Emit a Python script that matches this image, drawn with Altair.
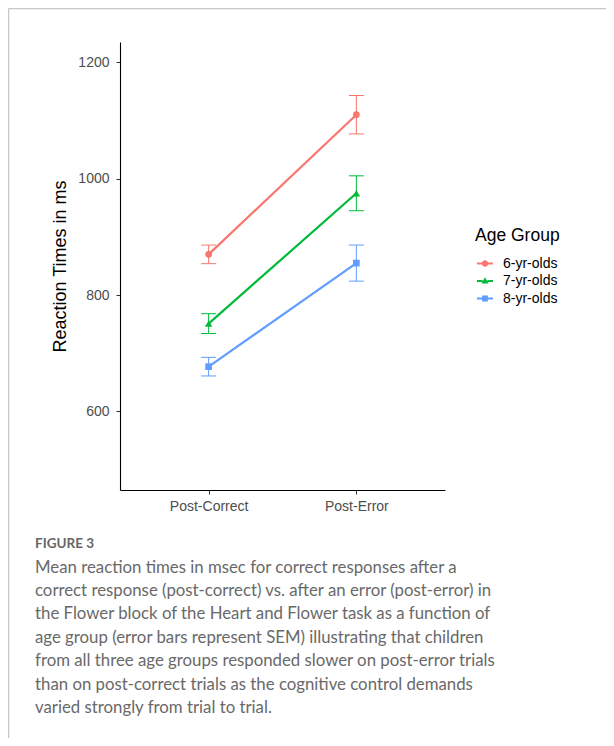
import altair as alt
import pandas as pd

# ---- data ----
conditions = ["Post-Correct", "Post-Error"]
groups = ["6-yr-olds", "7-yr-olds", "8-yr-olds"]
mean_6 = [870, 1110]
mean_7 = [751, 975]
mean_8 = [677, 855]
sem_6 = [16, 33]
sem_7 = [17, 30]
sem_8 = [16, 31]
y_ticks = [600, 800, 1000, 1200]
colors = ["#F8766D", "#00BA38", "#619CFF"]
plot_shapes = ["circle", "triangle-up", "square"]

caption_head = "FIGURE 3"
caption_lines = [
    "Mean reaction times in msec for correct responses after a",
    "correct response (post-correct) vs. after an error (post-error) in",
    "the Flower block of the Heart and Flower task as a function of",
    "age group (error bars represent SEM) illustrating that children",
    "from all three age groups responded slower on post-error trials",
    "than on post-correct trials as the cognitive control demands",
    "varied strongly from trial to trial.",
]

rows = []
for g, m, s in zip(groups, [mean_6, mean_7, mean_8], [sem_6, sem_7, sem_8]):
    for c, mv, sv in zip(conditions, m, s):
        rows.append({"group": g, "condition": c, "rt": mv, "lo": mv - sv, "hi": mv + sv})
df = pd.DataFrame(rows)

# legend glyphs: short line with the group's marker in the middle
line_l = "M-1,-0.13H-0.3V0.13H-1Z"
line_r = "M0.3,-0.13H1V0.13H0.3Z"
legend_paths = [
    line_l + line_r + "M0.4,0A0.4,0.4 0 1,1 -0.4,0A0.4,0.4 0 1,1 0.4,0Z",
    line_l + line_r + "M0,-0.46L0.44,0.32L-0.44,0.32Z",
    line_l + line_r + "M-0.36,-0.36H0.36V0.36H-0.36Z",
]

FONT = "Liberation Sans"

x_enc = alt.X(
    "condition:N",
    sort=conditions,
    scale=alt.Scale(type="point", padding=0.6),
    axis=alt.Axis(
        title=None, labelAngle=0, labelFont=FONT, labelFontSize=14,
        labelColor="#4D4D4D", labelPadding=5, tickColor="#333333", tickSize=4,
        domainColor="#000000", domainWidth=1.1, grid=False,
    ),
)
y_scale = alt.Scale(domain=[465, 1235], nice=False, zero=False)
y_enc = alt.Y(
    "rt:Q",
    scale=y_scale,
    axis=alt.Axis(
        title="Reaction Times in ms", values=y_ticks, format="d", labelFont=FONT,
        labelFontSize=14, labelColor="#4D4D4D", labelPadding=7,
        tickColor="#333333", tickSize=4, domainColor="#000000", domainWidth=1.1,
        grid=False, titleFont=FONT, titleFontSize=18, titleFontWeight="normal",
        titleColor="#000000", titleX=-60, titleY=224, titleAngle=270,
        titleAlign="center", titleBaseline="middle",
    ),
)
color_scale = alt.Scale(domain=groups, range=colors)
color_nolegend = alt.Color("group:N", scale=color_scale, legend=None)

base = alt.Chart(df)

leg = alt.Legend(
    title="Age Group", orient="none", legendX=355, legendY=185, padding=0,
    titleFont=FONT, titleFontSize=17.5, titleFontWeight="normal", titleColor="#000000",
    titlePadding=11, labelFont=FONT, labelFontSize=14, labelColor="#000000",
    symbolSize=256, symbolOpacity=1, symbolOffset=2, labelOffset=10, rowPadding=2.5,
    symbolStrokeWidth=0,
)
# invisible layer that only carries the legend (drawn first)
legend_layer = base.mark_point(filled=True, opacity=0).encode(
    x=x_enc, y=y_enc,
    color=alt.Color("group:N", scale=color_scale, legend=leg),
    shape=alt.Shape("group:N", scale=alt.Scale(domain=groups, range=legend_paths), legend=leg),
)

err = base.mark_rule(strokeWidth=1, opacity=1).encode(
    x=x_enc, y=alt.Y("lo:Q", scale=y_scale), y2="hi:Q", color=color_nolegend
)
cap_hi = base.mark_tick(orient="horizontal", size=15, thickness=1, opacity=1).encode(
    x=x_enc, y=alt.Y("hi:Q", scale=y_scale), color=color_nolegend
)
cap_lo = base.mark_tick(orient="horizontal", size=15, thickness=1, opacity=1).encode(
    x=x_enc, y=alt.Y("lo:Q", scale=y_scale), color=color_nolegend
)
lines = base.mark_line(strokeWidth=2.2).encode(x=x_enc, y=y_enc, color=color_nolegend)

point_layers = []
for g, shp in zip(groups, plot_shapes):
    point_layers.append(
        base.transform_filter(alt.datum.group == g)
        .mark_point(shape=shp, filled=True, opacity=1, size=45 if shp != "triangle-up" else 55)
        .encode(x=x_enc, y=y_enc, color=color_nolegend)
    )

one = alt.Chart(pd.DataFrame({"k": [0]}))
head = one.mark_text(
    text=caption_head, align="left", baseline="middle", font="Lato",
    fontSize=13.5, fontWeight="bold", color="#666666",
).encode(x=alt.value(-85), y=alt.value(502))
body = one.mark_text(
    text=caption_lines, align="left", baseline="middle", font="Lato",
    fontSize=16.8, lineHeight=23.4, color="#696969",
).encode(x=alt.value(-85), y=alt.value(525.5))

border_left = one.mark_rule(color="#c8c8c8", strokeWidth=1.5).encode(
    x=alt.value(-111.5), y=alt.value(-33.5), y2=alt.value(700)
)
border_top = one.mark_rule(color="#c8c8c8", strokeWidth=1.5).encode(
    x=alt.value(-111.5), x2=alt.value(490), y=alt.value(-33.5)
)

chart = alt.layer(
    legend_layer, border_left, border_top, err, cap_hi, cap_lo, lines, *point_layers, head, body
).properties(
    width=325, height=448,
    background="#ffffff",
    autosize=alt.AutoSizeParams(type="none"),
    padding={"left": 112, "top": 34, "right": 161, "bottom": 248},
).configure_view(strokeWidth=0, stroke=None)

chart.save("out.html", embed_options={"renderer": "svg", "actions": False})
